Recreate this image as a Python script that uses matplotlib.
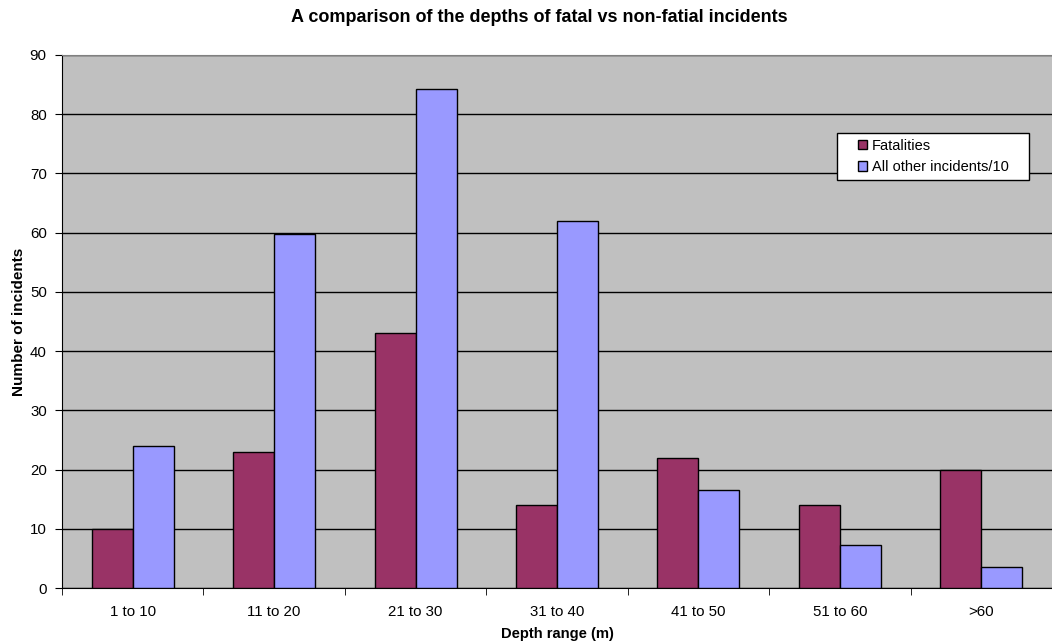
import numpy as np
import matplotlib
matplotlib.use('Agg')
import matplotlib.pyplot as plt
from matplotlib.patches import Rectangle

plt.rcParams['font.family'] = ['Liberation Sans', 'DejaVu Sans']

# data
depths = ['1 to 10', '11 to 20', '21 to 30', '31 to 40', '41 to 50', '51 to 60', '>60']
fatalities = [10, 23, 43, 14, 22, 14, 20]
others_div10 = [24, 59.8, 84.2, 62, 16.6, 7.3, 3.6]

fig = plt.figure(figsize=(10.52, 6.43), dpi=100)
ax = fig.add_axes([62/1052, 1 - 588/643, 990/1052, 533/643])
ax.set_facecolor('#C0C0C0')

x = np.arange(len(depths))
w = 0.29
ax.bar(x - w/2, fatalities, w, color='#993366', edgecolor='black', linewidth=1, label='Fatalities', zorder=3)
ax.bar(x + w/2, others_div10, w, color='#9999FF', edgecolor='black', linewidth=1, label='All other incidents/10', zorder=3)

ax.set_xlim(-0.5, len(depths) - 0.5)
ax.set_ylim(0, 90)
ax.set_yticks(range(0, 91, 10))
ax.yaxis.grid(True, color='black', linewidth=1, zorder=1)
ax.set_axisbelow(True)

ax.set_xticks(x)
ax.set_xticklabels(depths)
ax.set_xticks(np.arange(-0.5, len(depths), 1), minor=True)
ax.tick_params(axis='x', which='major', length=0, pad=12, labelsize=10.8)
ax.tick_params(axis='x', which='minor', length=5, direction='out', color='black')
ax.tick_params(axis='y', length=5, direction='out', labelsize=10.8, pad=6)

ax.spines['top'].set_color('#808080')
ax.spines['right'].set_visible(False)
ax.spines['left'].set_color('black')
ax.spines['bottom'].set_color('black')

ax.set_xlabel('Depth range (m)', fontsize=10.6, fontweight='bold')
ax.set_ylabel('Number of incidents', fontsize=11, fontweight='bold')
ax.xaxis.set_label_coords(0.5, -(627 - 588) / 533)
ax.yaxis.set_label_coords((26 - 62) / 990, 0.5)
fig.text(539.5/1052, 1 - 18/643, 'A comparison of the depths of fatal vs non-fatial incidents',
         fontsize=13, fontweight='bold', ha='center', va='center')

# legend box drawn separately so the side padding can be wider than the top/bottom
box = Rectangle(((837 - 62) / 990, 1 - (180 - 55) / 533), (1029 - 837) / 990, (180 - 133) / 533,
                transform=ax.transAxes, facecolor='white', edgecolor='black', linewidth=1, zorder=5)
ax.add_patch(box)
leg = ax.legend(loc='center left', bbox_to_anchor=((858 - 62) / 990, 1 - (156.5 - 55) / 533),
                frameon=False, fontsize=10.5, handlelength=0.62, handleheight=0.62, borderpad=0,
                labelspacing=0.5, handletextpad=0.35, borderaxespad=0)
leg.set_zorder(6)

fig.savefig('out.png', dpi=100)
